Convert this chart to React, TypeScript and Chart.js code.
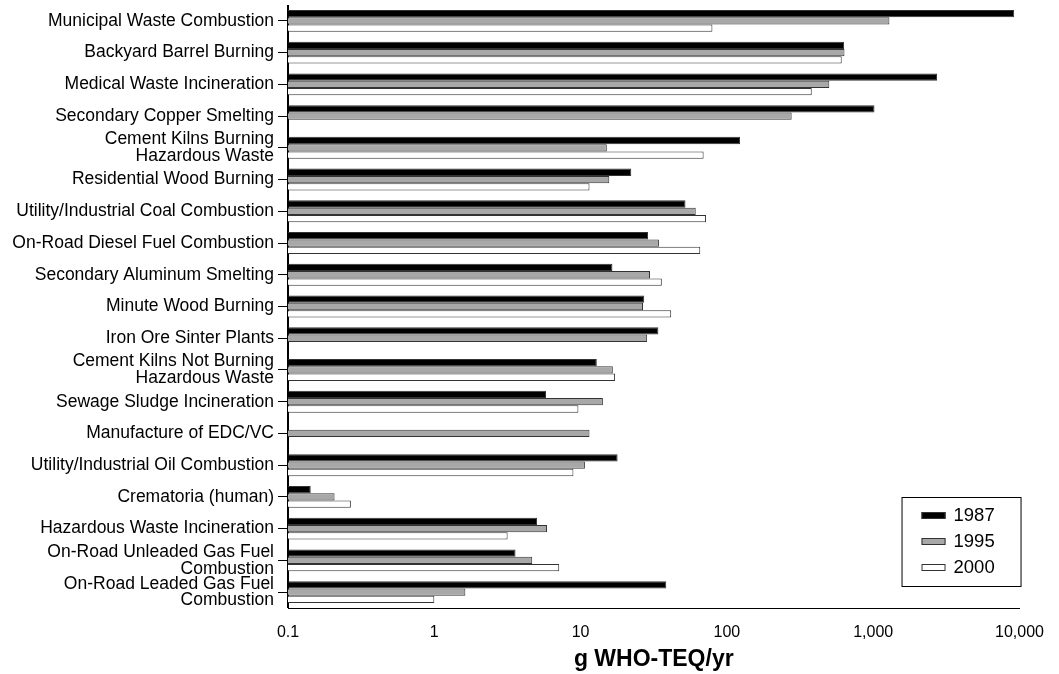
import React, { useEffect, useRef } from "react";
import { Chart, registerables } from "chart.js";

Chart.register(...registerables);

const categories: (string | string[])[] = [
  "Municipal Waste Combustion",
  "Backyard Barrel Burning",
  "Medical Waste Incineration",
  "Secondary Copper Smelting",
  ["Cement Kilns Burning", "Hazardous Waste"],
  "Residential Wood Burning",
  "Utility/Industrial Coal Combustion",
  "On-Road Diesel Fuel Combustion",
  "Secondary Aluminum Smelting",
  "Minute Wood Burning",
  "Iron Ore Sinter Plants",
  ["Cement Kilns Not Burning", "Hazardous Waste"],
  "Sewage Sludge Incineration",
  "Manufacture of EDC/VC",
  "Utility/Industrial Oil Combustion",
  "Crematoria (human)",
  "Hazardous Waste Incineration",
  ["On-Road Unleaded Gas Fuel", "Combustion"],
  ["On-Road Leaded Gas Fuel", "Combustion"],
];

const series1987: (number | null)[] = [
  9190, 632, 2730, 1020, 123, 22.2, 52.1, 28.9, 16.5, 27.2, 34.0, 12.9, 5.8, null, 17.9, 0.143, 5.04, 3.59, 38.5,
];
const series1995: (number | null)[] = [
  1290, 636, 501, 277, 15.1, 15.7, 61.2, 34.3, 29.8, 26.7, 28.5, 16.6, 14.2, 11.5, 10.7, 0.208, 5.89, 4.67, 1.63,
];
const series2000: (number | null)[] = [
  79.6, 609, 380, null, 69.3, 11.5, 72.0, 65.7, 35.9, 41.6, null, 17.2, 9.66, null, 8.93, 0.269, 3.17, 7.14, 1.0,
];

const seriesLabels = ["1987", "1995", "2000"];
const seriesColors = ["#000000", "#a8a8a8", "#ffffff"];

const xTickValues = [0.1, 1, 10, 100, 1000, 10000];
const xTickLabels = ["0.1", "1", "10", "100", "1,000", "10,000"];
const xTitle = "g WHO-TEQ/yr";

const FONT = "'Liberation Sans', Arial, Helvetica, sans-serif";

const axisLinePlugin = {
  id: "axisLineOnTop",
  afterDatasetsDraw(chart: any) {
    const { ctx, chartArea } = chart;
    ctx.save();
    ctx.strokeStyle = "#000";
    ctx.lineWidth = 1;
    ctx.beginPath();
    const x = Math.round(chartArea.left) - 0.5;
    ctx.moveTo(x, chartArea.top);
    ctx.lineTo(x, chartArea.bottom);
    ctx.stroke();
    ctx.restore();
  },
};

const legendPlugin = {
  id: "boxLegend",
  afterDraw(chart: any) {
    const { ctx, chartArea } = chart;
    const w = 119;
    const h = 89;
    const x = chartArea.right + 1 - w;
    const y = chartArea.bottom - 22 - h;
    ctx.save();
    ctx.fillStyle = "#fff";
    ctx.fillRect(x, y, w, h);
    ctx.strokeStyle = "#000";
    ctx.lineWidth = 1;
    ctx.strokeRect(x + 0.5, y + 0.5, w, h);
    chart.data.datasets.forEach((ds: any, i: number) => {
      const cy = y + 18 + i * 26;
      ctx.fillStyle = ds.backgroundColor;
      ctx.fillRect(x + 20, cy - 3, 24, 7);
      ctx.strokeStyle = "#333";
      ctx.strokeRect(x + 20.5, cy - 2.5, 23, 6);
      ctx.fillStyle = "#000";
      ctx.font = `18.5px ${FONT}`;
      ctx.textBaseline = "middle";
      ctx.textAlign = "left";
      ctx.fillText(ds.label, x + 52, cy + 1);
    });
    ctx.restore();
  },
};

export default function App() {
  const ref = useRef<HTMLCanvasElement | null>(null);

  useEffect(() => {
    if (!ref.current) return;
    const chart = new Chart(ref.current, {
      type: "bar",
      data: {
        labels: categories,
        datasets: [series1987, series1995, series2000].map((d, i) => ({
          label: seriesLabels[i],
          data: d,
          backgroundColor: seriesColors[i],
          borderColor: "#333333",
          borderWidth: 1,
          categoryPercentage: 0.69,
          barPercentage: 1.0,
        })),
      },
      options: {
        indexAxis: "y",
        responsive: false,
        animation: false,
        devicePixelRatio: 1,
        layout: { padding: { top: 5, right: 37, left: 0, bottom: 0 } },
        plugins: {
          legend: { display: false },
          tooltip: { enabled: false },
        },
        scales: {
          x: {
            type: "logarithmic",
            min: 0.1,
            max: 10000,
            afterBuildTicks: (scale: any) => {
              scale.ticks = xTickValues.map((v) => ({ value: v }));
            },
            afterFit: (scale: any) => {
              scale.height = 66;
            },
            ticks: {
              color: "#000",
              font: { family: FONT, size: 16 },
              padding: 15,
              maxRotation: 0,
              autoSkip: false,
              callback: (value: any) => {
                const idx = xTickValues.findIndex((v) => Math.abs(v - Number(value)) < 1e-9);
                return idx >= 0 ? xTickLabels[idx] : "";
              },
            },
            grid: { display: false, drawTicks: false },
            border: { display: true, color: "#000", width: 1 },
            title: {
              display: true,
              text: xTitle,
              color: "#000",
              font: { family: FONT, size: 23, weight: "bold" },
              padding: { top: 0, bottom: 1 },
            },
          },
          y: {
            type: "category",
            offset: true,
            afterFit: (scale: any) => {
              scale.width = 288;
              scale.paddingTop = 0;
              scale.paddingBottom = 0;
            },
            ticks: {
              color: "#000",
              font: { family: FONT, size: 17.5, lineHeight: 0.95 },
              padding: 4,
              autoSkip: false,
            },
            grid: {
              display: true,
              drawOnChartArea: false,
              drawTicks: true,
              tickLength: 10,
              offset: false,
              color: "#000",
              lineWidth: 1,
            },
            border: { display: true, color: "#000", width: 1 },
          },
        },
      },
      plugins: [axisLinePlugin, legendPlugin],
    } as any);
    return () => chart.destroy();
  }, []);

  return (
    <div style={{ position: "absolute", left: 0, top: 0, width: 1059, height: 674, background: "#fff" }}>
      <canvas ref={ref} width={1059} height={674} style={{ display: "block" }} />
    </div>
  );
}
